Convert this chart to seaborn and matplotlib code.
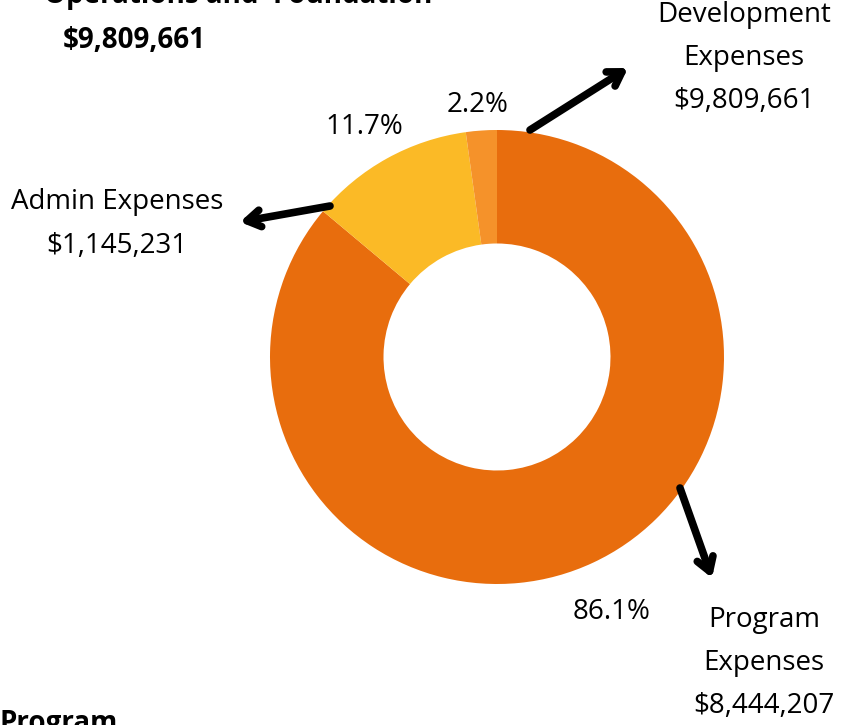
import matplotlib.pyplot as plt
import seaborn as sns

# data
categories = ["Program Expenses", "Admin Expenses", "Development Expenses"]
shares = [86.1, 11.7, 2.2]
amounts = ["$8,444,207", "$1,145,231", "$9,809,661"]
colors = ["#E86D0D", "#FBBA26", "#F5922A"]
total_label = "$9,809,661"

sns.set_theme(style="white")
plt.rcParams['font.family'] = ['Open Sans', 'DejaVu Sans']
plt.rcParams['text.color'] = 'black'

fig = plt.figure(figsize=(8.51, 7.25), dpi=100)
ax = fig.add_axes([0, 0, 1, 1])

# donut, pixel coordinates with y going up
cx, cy, r = 497, 368, 227
wedges, _ = ax.pie(shares, colors=colors, startangle=90, counterclock=False,
                   center=(cx, cy), radius=r, frame=True,
                   wedgeprops=dict(width=r * 0.5, linewidth=0))
ax.set_xlim(0, 851)
ax.set_ylim(0, 725)
ax.set_aspect('equal')
ax.axis('off')

fs = 20

# percent labels
pct_pos = [(612, 113), (364, 598), (478, 620)]
for s, (x, y) in zip(shares, pct_pos):
    ax.text(x, y, f"{s}%", ha='center', va='center', fontsize=fs, color='black')

# category labels
ax.text(764, 62, "Program\nExpenses\n" + amounts[0], ha='center', va='center',
        fontsize=fs, linespacing=1.72, color='black')
ax.text(117, 501, "Admin Expenses\n" + amounts[1], ha='center', va='center',
        fontsize=fs, linespacing=1.72, color='black')
ax.text(744, 667, "Development\nExpenses\n" + amounts[2], ha='center', va='center',
        fontsize=fs, linespacing=1.72, color='black')

# arrows
arrow = dict(arrowstyle='->,head_length=0.8,head_width=0.5', lw=5.5,
             color='black', capstyle='round', joinstyle='round',
             shrinkA=0, shrinkB=0)
ax.annotate("", xy=(712, 147), xytext=(680, 237), arrowprops=arrow)
ax.annotate("", xy=(240, 503), xytext=(330, 519), arrowprops=arrow)
ax.annotate("", xy=(628, 657), xytext=(530, 595), arrowprops=arrow)

# bold headings cut at the edges
ax.text(238, 730, "Operations and  Foundation", ha='center', va='center',
        fontsize=fs, fontweight='bold', clip_on=False, color='black')
ax.text(134, 685, total_label, ha='center', va='center',
        fontsize=fs, fontweight='bold', color='black')
ax.text(0, 2, "Program", ha='left', va='center',
        fontsize=fs, fontweight='bold', clip_on=False, color='black')

fig.savefig("out.png", dpi=100)
